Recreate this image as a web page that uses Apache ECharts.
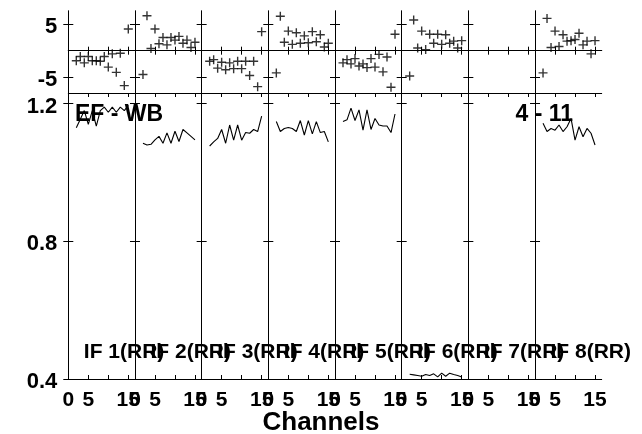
<!DOCTYPE html>
<html>
<head>
<meta charset="utf-8">
<script src="https://cdn.jsdelivr.net/npm/echarts@6/dist/echarts.min.js"></script>
<style>
html,body{margin:0;padding:0;background:#fff;}
#chart{width:642px;height:434px;}
</style>
</head>
<body>
<div id="chart"></div>
<script>
// ---- data ----
const channels = [2, 3, 4, 5, 6, 7, 8, 9, 10, 11, 12, 13, 14, 15];
const ifLabels = ['IF 1(RR)', 'IF 2(RR)', 'IF 3(RR)', 'IF 4(RR)', 'IF 5(RR)', 'IF 6(RR)', 'IF 7(RR)', 'IF 8(RR)'];
const if1Phase = [-1.9, -1.1, -2.3, -1.1, -1.9, -1.9, -2.0, -1.1, -3.1, -0.6, -4.1, -0.5, -6.6, 4.1];
const if2Phase = [-4.5, 6.6, 0.4, 4.1, 1.3, 2.5, 1.1, 2.5, 2.0, 2.7, 1.4, 2.0, 0.6, 1.6];
const if3Phase = [-2.0, -1.7, -3.3, -2.2, -3.6, -2.3, -3.4, -2.0, -3.4, -2.0, -4.7, -2.0, -6.8, 3.6];
const if4Phase = [-4.2, 6.5, 1.6, 3.7, 1.2, 3.4, 1.4, 2.8, 1.5, 3.6, 1.7, 3.0, 0.7, 1.4];
const if5Phase = [-2.3, -1.7, -2.5, -1.5, -2.9, -2.5, -3.2, -1.5, -3.1, -0.7, -4.0, -1.2, -6.9, 3.1];
const if6Phase = [-4.8, 5.8, 0.5, 3.7, 0.2, 3.1, 1.4, 3.1, 1.2, 3.0, 1.4, 1.8, 0.5, 1.9];
const if7Phase = [];
const if8Phase = [-4.2, 6.1, 0.6, 3.7, 0.8, 3.0, 1.8, 1.9, 2.1, 3.3, 1.1, 1.8, -0.6, 1.9];

const if1Amp = [1.13, 1.155, 1.18, 1.14, 1.18, 1.135, 1.18, 1.19, 1.175, 1.19, 1.175, 1.19, 1.18, 1.195];
const if2Amp = [1.085, 1.080, 1.082, 1.095, 1.105, 1.085, 1.115, 1.085, 1.12, 1.09, 1.125, 1.115, 1.105, 1.095];
const if3Amp = [1.077, 1.089, 1.099, 1.125, 1.085, 1.138, 1.094, 1.138, 1.094, 1.116, 1.114, 1.125, 1.119, 1.164];
const if4Amp = [1.148, 1.119, 1.128, 1.131, 1.128, 1.119, 1.151, 1.109, 1.151, 1.112, 1.148, 1.116, 1.119, 1.089];
const if5Amp = [1.148, 1.153, 1.187, 1.151, 1.182, 1.123, 1.182, 1.125, 1.157, 1.138, 1.135, 1.135, 1.116, 1.17];
const if6Amp = [0.414, 0.412, 0.410, 0.408, 0.413, 0.410, 0.415, 0.406, 0.417, 0.408, 0.417, 0.413, 0.410, 0.406];
const if7Amp = [];
const if8Amp = [1.143, 1.119, 1.128, 1.123, 1.138, 1.119, 1.133, 1.157, 1.094, 1.133, 1.104, 1.128, 1.114, 1.08];

const phaseSets = [if1Phase, if2Phase, if3Phase, if4Phase, if5Phase, if6Phase, if7Phase, if8Phase];
const ampSets = [if1Amp, if2Amp, if3Amp, if4Amp, if5Amp, if6Amp, if7Amp, if8Amp];

const xTicks = [0, 5, 10, 15];
const xTickLabels = [0, 5, 15];
const phaseTicks = [-5, 5];
const ampTicks = [0.4, 0.8, 1.2];

// ---- layout ----
const FONT = 'Liberation Sans, Arial, Helvetica, sans-serif';
const plotLeft = 68.3, plotRight = 601.7;
const panelW = (plotRight - plotLeft) / 8;
const xMax = panelW / 4;
const phaseTop = 11, phaseH = 82;
const ampTop = 93, ampH = 286;

const grids = [], xAxes = [], yAxes = [], series = [], titles = [];
const lineCol = '#000';

function addAxes(g, isAmp, first) {
  const common = {
    gridIndex: g, type: 'value', min: 0, max: xMax,
    axisLine: { show: true, lineStyle: { color: lineCol, width: 1 } },
    axisTick: { show: true, inside: true, length: 4, customValues: xTicks, lineStyle: { color: lineCol } },
    splitLine: { show: false }
  };
  xAxes.push(Object.assign({}, common, {
    position: 'bottom',
    axisLabel: isAmp ? { show: true, customValues: xTickLabels, margin: 11, color: '#000', fontFamily: FONT, fontWeight: 'bold', fontSize: 21 } : { show: false }
  }));
  xAxes.push(Object.assign({}, common, { position: 'top', axisLabel: { show: false } }));
  const ycommon = {
    gridIndex: g, type: 'value',
    min: isAmp ? 0.4 : -8.0, max: isAmp ? 1.231 : 7.5,
    axisLine: { show: true, lineStyle: { color: lineCol, width: 1 } },
    axisTick: { show: true, inside: true, length: 5, customValues: isAmp ? ampTicks : phaseTicks, lineStyle: { color: lineCol } },
    splitLine: { show: false }
  };
  yAxes.push(Object.assign({}, ycommon, {
    position: 'left',
    axisLabel: first ? {
      show: true, customValues: isAmp ? ampTicks : phaseTicks, margin: 11,
      formatter: v => '{v|' + (isAmp ? v.toFixed(1) : String(v)) + '}',
      rich: { v: { padding: [6, 0, 0, 0], color: '#000', fontFamily: FONT, fontWeight: 'bold', fontSize: 22 } }
    } : { show: false }
  }));
  yAxes.push(Object.assign({}, ycommon, { position: 'right', axisLabel: { show: false } }));
}

for (let i = 0; i < 8; i++) {
  const left = plotLeft + i * panelW;
  const gp = 2 * i, ga = 2 * i + 1;
  grids.push({ left: left, top: phaseTop, width: panelW, height: phaseH, containLabel: false });
  addAxes(gp, false, i === 0);
  grids.push({ left: left, top: ampTop, width: panelW, height: ampH, containLabel: false });
  addAxes(ga, true, i === 0);

  series.push({
    type: 'scatter', xAxisIndex: 2 * gp, yAxisIndex: 2 * gp,
    data: phaseSets[i].map((v, k) => [channels[k], v]),
    symbol: 'path://M0,5L10,5M5,0L5,10', symbolSize: 9,
    itemStyle: { color: 'none', borderColor: '#000', borderWidth: 1.4 },
    silent: true,
    markLine: {
      silent: true, symbol: ['none', 'none'], label: { show: false },
      lineStyle: { color: '#000', width: 1, type: 'solid' },
      data: [{ yAxis: 0 }]
    }
  });
  series.push({
    type: 'line', xAxisIndex: 2 * ga, yAxisIndex: 2 * ga,
    data: ampSets[i].map((v, k) => [channels[k], v]),
    showSymbol: false, symbol: 'none', silent: true,
    lineStyle: { color: '#000', width: 1.1 }
  });

  titles.push({
    text: ifLabels[i], left: left + 15.5, top: 342,
    textStyle: { fontFamily: FONT, fontWeight: 'bold', fontSize: 21, color: '#000' }
  });
}

titles.push({ text: 'EF - WB', left: 75, top: 103, textStyle: { fontFamily: FONT, fontWeight: 'bold', fontSize: 23, color: '#000' } });
titles.push({ text: '4 - 11', right: 69, top: 103, textStyle: { fontFamily: FONT, fontWeight: 'bold', fontSize: 23, color: '#000' } });
titles.push({ text: 'Channels', left: 'center', top: 410, textStyle: { fontFamily: FONT, fontWeight: 'bold', fontSize: 26, color: '#000' } });

const chart = echarts.init(document.getElementById('chart'), null, { renderer: 'canvas' });
chart.setOption({
  animation: false,
  backgroundColor: '#fff',
  title: titles.map(t => Object.assign({ padding: 0 }, t)),
  grid: grids,
  xAxis: xAxes,
  yAxis: yAxes,
  series: series
});
</script>
</body>
</html>
